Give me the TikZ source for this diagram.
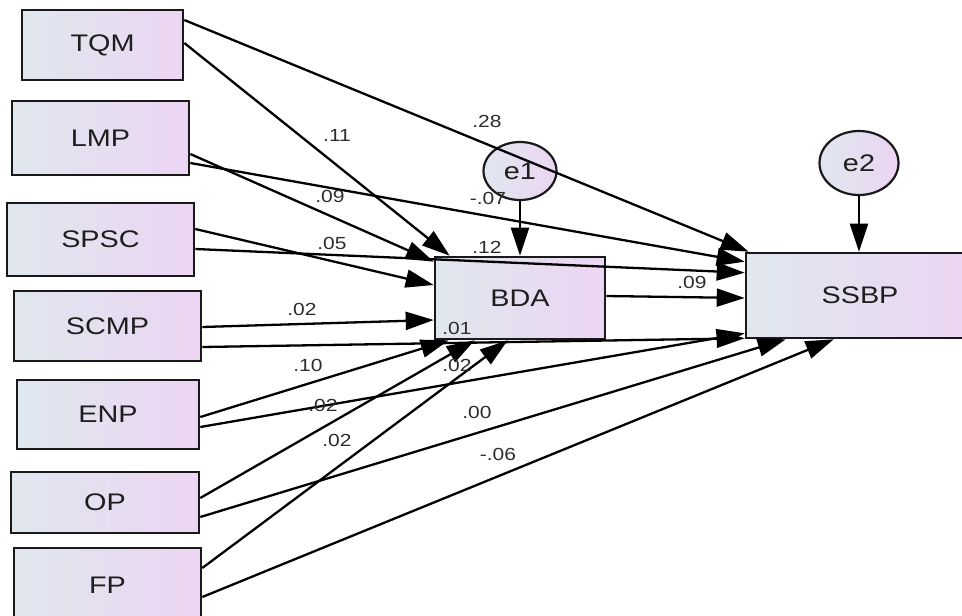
\documentclass[tikz,border=0pt]{standalone}
\usepackage{fontspec}
\setmainfont{Liberation Sans}
\newfontfamily\diagfont[FakeStretch=1.2]{Liberation Sans}
\usetikzlibrary{arrows.meta,shapes.geometric}
\definecolor{fillL}{RGB}{224,231,238}
\definecolor{fillR}{RGB}{236,213,243}
\definecolor{coeftxt}{RGB}{45,45,45}
\definecolor{nodetxt}{RGB}{30,30,30}

\begin{document}
\begin{tikzpicture}[x=1pt,y=-1pt,
  var/.style={rectangle, draw=black!90, line width=2.6pt, left color=fillL, right color=fillR,
    inner sep=0pt, font=\diagfont\fontsize{24}{28}\selectfont, text=nodetxt},
  err/.style={var, ellipse, line width=2.2pt},
  coef/.style={font=\diagfont\fontsize{17.5}{21}\selectfont, text=coeftxt, inner sep=0pt},
  link/.style={line width=2.3pt, draw=black, -{Triangle[length=28pt,width=18pt]}}
]
\clip (0,0) rectangle (962,616);
\fill[white] (0,0) rectangle (962,616);

% observed predictors
\node[var, minimum width=161pt, minimum height=70pt] (TQM)  at (102.5,45)   {TQM};
\node[var, minimum width=177pt, minimum height=74pt] (LMP)  at (100.5,138)  {LMP};
\node[var, minimum width=187pt, minimum height=73pt] (SPSC) at (100.5,239.5){SPSC};
\node[var, minimum width=187pt, minimum height=70pt] (SCMP) at (107.5,326)  {SCMP};
\node[var, minimum width=182pt, minimum height=69pt] (ENP)  at (108,414.5)  {ENP};
\node[var, minimum width=188pt, minimum height=61pt] (OP)   at (105,502.5)  {OP};
\node[var, minimum width=187pt, minimum height=75pt] (FP)   at (107.5,585.5){FP};

% mediator, outcome and error terms
\node[var, minimum width=170pt, minimum height=82pt] (BDA)  at (520,298)    {BDA};
\node[var, minimum width=228pt, minimum height=85pt] (SSBP) at (860,295.5)  {SSBP};
\node[err, minimum width=73pt, minimum height=58pt]  (e1)   at (520,171)    {e1};
\node[err, minimum width=79pt, minimum height=64pt]  (e2)   at (859,163)    {e2};

% structural paths
\draw[link] ([yshift=25pt]TQM.east)    -- ([xshift=4pt]SSBP.north west);
\draw[link] ([yshift=2pt]TQM.east)     -- ([xshift=16pt]BDA.north west);
\draw[link] ([yshift=-16pt]LMP.east)   -- ([yshift=-6pt]BDA.north west);
\draw[link] ([yshift=-25pt]LMP.east)   -- ([yshift=-10pt]SSBP.north west);
\draw[link] ([yshift=10.5pt]SPSC.east) -- ([yshift=13pt]BDA.west);
\draw[link] ([yshift=-9.5pt]SPSC.east) -- ([yshift=-21pt]SSBP.north west);
\draw[link] ([yshift=-1pt]SCMP.east)   -- ([yshift=-22pt]BDA.west);
\draw[link] ([yshift=-21pt]SCMP.east)  -- ([yshift=1pt]SSBP.south west);
\draw[link] ([yshift=2pt]BDA.east)     -- ([yshift=-2.5pt]SSBP.west);
\draw[link] ([yshift=-2.5pt]ENP.east)  -- ([xshift=15pt]BDA.south west);
\draw[link] ([yshift=-12.5pt]ENP.east) -- ([yshift=6pt]SSBP.south west);
\draw[link] ([yshift=4.5pt]OP.east)    -- ([xshift=41pt]BDA.south west);
\draw[link] ([yshift=-14.5pt]OP.east)  -- ([xshift=41pt]SSBP.south west);
\draw[link] ([yshift=17.5pt]FP.east)   -- ([xshift=74pt]BDA.south west);
\draw[link] ([yshift=-11.5pt]FP.east)  -- ([xshift=89pt]SSBP.south west);
\draw[link] (e1.south) -- (e1.south |- BDA.north);
\draw[link] (e2.south) -- (e2.south |- SSBP.north);

% path coefficients
\node[coef] (c1)  at (487,121) {.28};
\node[coef] (c2)  at (337,135) {.11};
\node[coef] (c3)  at (330,196) {.09};
\node[coef] (c4)  at (488,198) {-.07};
\node[coef] (c5)  at (332,243) {.05};
\node[coef] (c6)  at (487,247) {.12};
\node[coef] (c7)  at (302,309) {.02};
\node[coef] (c8)  at (457,328) {.01};
\node[coef] (c9)  at (692,282) {.09};
\node[coef] (c10) at (308,365) {.10};
\node[coef] (c11) at (457,365) {.02};
\node[coef] (c12) at (323,405) {.02};
\node[coef] (c13) at (477,412) {.00};
\node[coef] (c14) at (337,440) {.02};
\node[coef] (c15) at (498,454) {-.06};
\end{tikzpicture}
\end{document}
